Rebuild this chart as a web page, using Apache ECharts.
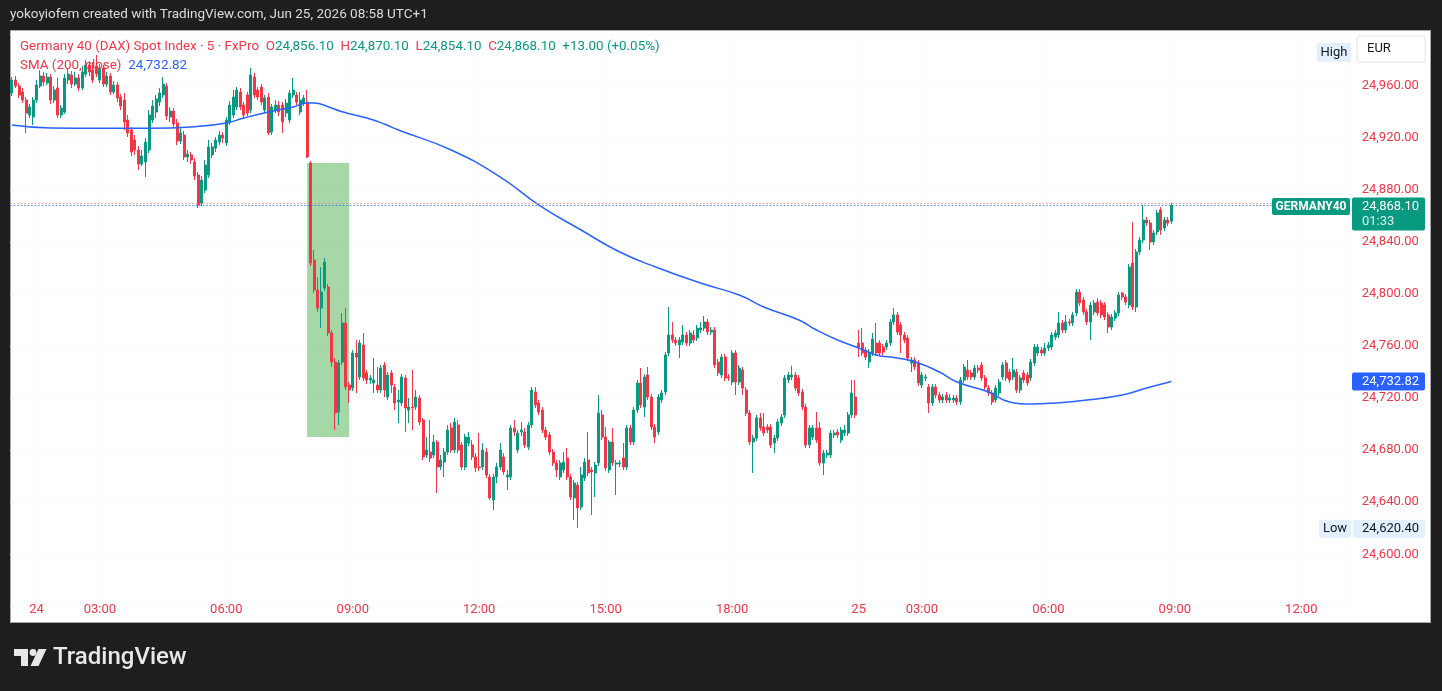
<!DOCTYPE html>
<html>
<head>
<meta charset="utf-8">
<script src="https://cdn.jsdelivr.net/npm/echarts@6.0.0/dist/echarts.min.js"></script>
<style>
html,body{margin:0;padding:0;background:#1e1e1e;width:1442px;height:691px;overflow:hidden}
#panel{position:absolute;left:10px;top:30px;width:1421px;height:593px;background:#ffffff;border:1px solid #a9a9a9;box-sizing:border-box}
#chart{position:absolute;left:0;top:0;width:1442px;height:691px}
</style>
</head>
<body>
<div id="panel"></div>
<div id="chart"></div>
<script>
// ---------- DATA ----------
// trading sessions: [day label, first bar time, number of 5-minute bars]
const sessions = [['23', '20:25', 7], ['24', '01:30', 234], ['25', '01:30', 140]];

// candles: [open, close, low, high]
const ohlc = [
[24954.6,24964.6,24952.3,24966.9],[24964.6,24960.0,24958.5,24967.7],[24960.0,24953.1,24950.8,24962.3],[24955.4,24949.2,24946.9,24958.5],
[24949.2,24939.2,24923.9,24951.5],[24937.7,24943.9,24935.4,24946.2],[24936.2,24949.2,24930.0,24951.5],[24949.2,24960.8,24946.9,24964.6],
[24960.0,24967.7,24958.5,24972.3],[24967.7,24963.1,24960.0,24970.8],[24962.3,24966.9,24960.8,24970.0],[24966.9,24949.2,24946.2,24969.2],
[24949.2,24956.9,24946.9,24960.0],[24958.5,24937.7,24935.4,24966.2],[24937.7,24943.1,24935.4,24945.4],[24940.0,24966.2,24938.5,24969.2],
[24964.6,24969.2,24961.5,24973.8],[24968.5,24961.5,24958.5,24971.5],[24961.5,24966.2,24960.0,24970.8],[24966.2,24958.5,24956.2,24969.2],
[24958.5,24970.8,24956.9,24975.4],[24969.2,24976.1,24966.9,24980.0],[24976.1,24970.8,24967.7,24979.2],[24972.3,24964.6,24962.3,24978.5],
[24975.4,24969.2,24966.9,24983.8],[24964.6,24973.8,24962.3,24976.9],[24973.8,24961.5,24959.2,24976.1],[24961.5,24967.7,24959.2,24970.8],
[24967.7,24955.4,24953.1,24970.0],[24955.4,24960.8,24953.8,24963.8],[24960.8,24950.8,24947.7,24963.1],[24951.5,24944.6,24941.5,24953.8],
[24949.2,24932.3,24926.2,24954.6],[24933.9,24923.9,24920.8,24937.7],[24926.2,24909.3,24906.2,24928.5],[24918.5,24910.8,24907.0,24922.3],
[24910.8,24900.0,24895.4,24913.9],[24900.0,24906.2,24898.5,24910.8],[24901.6,24916.9,24890.0,24920.0],[24910.8,24937.7,24908.5,24941.5],
[24933.9,24944.6,24931.6,24949.2],[24940.0,24950.0,24935.4,24953.1],[24947.7,24954.6,24944.6,24958.5],[24953.1,24961.5,24950.8,24966.9],
[24960.0,24936.9,24933.9,24962.3],[24936.2,24940.8,24932.3,24943.9],[24940.8,24930.8,24927.7,24943.1],[24931.6,24917.7,24914.6,24934.6],
[24917.7,24923.9,24915.4,24927.7],[24922.3,24905.4,24903.1,24925.4],[24905.4,24907.7,24901.6,24910.8],[24907.0,24903.1,24900.0,24909.3],
[24901.6,24890.8,24887.7,24904.6],[24891.6,24868.5,24866.2,24893.9],[24870.1,24887.7,24867.7,24890.8],[24880.0,24899.3,24877.7,24903.1],
[24891.6,24913.1,24889.3,24918.5],[24907.0,24913.1,24904.6,24916.2],[24912.3,24918.5,24909.3,24920.8],[24916.9,24922.3,24914.6,24925.4],
[24922.3,24920.0,24916.2,24924.6],[24916.2,24933.9,24913.9,24936.2],[24932.3,24945.4,24930.0,24948.5],[24937.7,24951.5,24935.4,24956.9],
[24943.9,24956.9,24941.5,24959.2],[24955.4,24943.9,24941.5,24958.5],[24945.4,24937.7,24935.4,24947.7],[24953.1,24939.2,24936.9,24955.4],
[24941.5,24968.5,24939.2,24973.8],[24966.9,24953.1,24950.8,24970.0],[24956.9,24951.5,24949.2,24959.2],[24959.2,24947.7,24945.4,24961.5],
[24941.5,24950.8,24939.2,24953.1],[24951.5,24923.9,24922.3,24954.6],[24924.6,24943.9,24922.3,24946.2],[24941.5,24945.4,24939.2,24949.2],
[24945.4,24940.0,24936.9,24948.5],[24945.4,24932.3,24923.9,24947.7],[24939.2,24946.9,24936.2,24950.0],[24933.9,24954.6,24931.6,24956.9],
[24953.1,24956.9,24950.8,24966.2],[24953.1,24947.7,24945.4,24955.4],[24940.0,24949.2,24937.7,24955.4],[24946.9,24950.8,24944.6,24953.1],
[24947.7,24905.4,24904.6,24956.9],[24900.8,24823.9,24821.6,24902.3],[24826.2,24803.2,24800.9,24833.9],[24803.2,24789.3,24786.3,24813.2],
[24789.3,24801.6,24774.0,24820.8],[24804.7,24824.7,24802.4,24827.8],[24805.5,24770.1,24767.8,24807.8],[24770.1,24747.8,24744.0,24772.4],
[24747.8,24708.6,24695.5,24750.9],[24709.4,24747.1,24699.4,24749.4],[24747.8,24777.8,24745.5,24785.5],[24777.8,24728.6,24726.3,24789.3],
[24730.1,24726.3,24716.3,24732.4],[24727.8,24754.7,24725.5,24757.0],[24754.7,24751.6,24724.0,24764.7],[24736.3,24762.4,24734.0,24764.7],
[24760.9,24735.5,24733.2,24770.1],[24739.4,24734.0,24730.9,24741.7],[24734.0,24735.5,24730.9,24737.8],[24731.7,24734.0,24724.0,24750.9],
[24730.1,24726.3,24724.0,24744.0],[24726.3,24743.2,24724.0,24745.5],[24745.5,24726.3,24720.9,24747.8],[24720.9,24737.8,24718.6,24740.1],
[24739.4,24730.1,24724.0,24741.7],[24728.6,24716.3,24710.9,24730.9],[24717.1,24718.6,24700.9,24726.3],[24716.3,24736.3,24713.9,24738.6],
[24735.5,24712.5,24694.0,24737.8],[24710.9,24713.2,24700.9,24720.1],[24713.2,24712.5,24695.5,24741.7],[24713.2,24720.9,24710.9,24726.3],
[24720.1,24701.7,24699.4,24722.4],[24703.2,24674.8,24672.5,24704.8],[24676.3,24680.2,24674.0,24690.1],[24678.6,24674.0,24670.9,24703.2],
[24676.3,24686.3,24674.0,24691.7],[24686.3,24667.1,24647.1,24687.8],[24667.1,24672.5,24664.8,24676.3],[24670.9,24678.6,24659.4,24681.7],
[24678.6,24695.5,24676.3,24699.4],[24697.1,24680.2,24677.8,24700.9],[24680.2,24701.7,24677.8,24704.8],[24699.4,24680.2,24677.8,24703.2],
[24684.0,24667.1,24664.8,24686.3],[24667.1,24690.1,24664.8,24692.5],[24685.5,24690.1,24683.2,24694.0],[24684.0,24674.8,24672.5,24687.8],
[24674.8,24666.4,24663.3,24677.8],[24667.1,24666.4,24664.0,24693.2],[24667.1,24680.2,24664.8,24685.5],[24678.6,24660.9,24658.6,24681.7],
[24659.4,24643.3,24641.7,24661.7],[24641.7,24659.4,24634.0,24661.7],[24659.4,24667.1,24654.8,24670.2],[24667.1,24680.2,24664.8,24685.5],
[24674.8,24663.3,24660.9,24677.8],[24659.4,24660.9,24649.4,24664.8],[24659.4,24697.1,24657.1,24699.4],[24697.1,24694.0,24690.9,24703.2],
[24680.2,24693.2,24677.8,24695.5],[24694.0,24695.5,24690.9,24701.7],[24694.0,24684.0,24681.7,24697.1],[24682.5,24699.4,24680.2,24701.7],
[24699.4,24726.3,24697.1,24728.6],[24724.8,24714.8,24712.5,24728.6],[24716.3,24709.4,24707.1,24718.6],[24710.9,24695.5,24693.2,24713.2],
[24695.5,24690.1,24687.8,24697.8],[24691.7,24678.6,24676.3,24694.0],[24678.6,24670.2,24667.9,24680.9],[24670.2,24664.8,24659.4,24672.5],
[24659.4,24670.2,24657.1,24672.5],[24664.8,24670.9,24662.5,24678.6],[24674.0,24659.4,24657.1,24681.7],[24659.4,24644.0,24641.7,24661.7],
[24643.3,24654.8,24626.3,24657.1],[24653.2,24635.6,24620.4,24655.6],[24636.3,24661.0,24634.0,24667.1],[24658.6,24670.9,24656.3,24674.0],
[24672.5,24662.5,24660.2,24694.0],[24664.8,24663.3,24630.2,24667.1],[24662.5,24668.6,24644.0,24670.9],[24670.2,24708.6,24667.9,24722.4],
[24707.1,24690.1,24687.8,24710.9],[24690.1,24666.4,24664.0,24697.8],[24664.8,24686.3,24662.5,24687.8],[24686.3,24670.2,24667.9,24697.1],
[24669.4,24670.2,24645.6,24672.5],[24669.4,24670.2,24667.1,24672.5],[24674.0,24667.1,24664.8,24685.5],[24667.1,24697.1,24664.8,24699.4],
[24697.1,24686.3,24684.0,24699.4],[24686.3,24710.9,24684.0,24713.2],[24710.9,24731.7,24708.6,24734.0],[24731.7,24714.8,24712.5,24743.2],
[24713.2,24736.3,24705.5,24738.6],[24737.8,24720.9,24718.6,24744.0],[24720.9,24697.8,24695.5,24723.2],[24697.8,24690.1,24685.5,24700.1],
[24694.0,24720.9,24691.7,24723.2],[24718.6,24724.0,24716.3,24726.3],[24724.8,24753.2,24722.4,24755.5],[24754.7,24768.6,24752.4,24790.1],
[24768.6,24764.7,24762.4,24778.6],[24764.7,24762.4,24760.1,24767.0],[24760.9,24764.7,24750.9,24767.0],[24763.2,24768.6,24760.9,24776.3],
[24768.6,24762.4,24760.1,24770.9],[24762.4,24770.1,24760.1,24772.4],[24768.6,24764.7,24762.4,24772.4],[24766.3,24773.9,24764.0,24776.3],
[24772.4,24773.9,24770.1,24778.6],[24773.9,24778.6,24771.6,24783.2],[24778.6,24770.9,24768.6,24780.9],[24770.9,24772.4,24768.6,24774.7],
[24772.4,24745.5,24743.2,24774.7],[24747.8,24739.4,24737.1,24750.1],[24737.8,24751.6,24735.5,24753.9],[24751.6,24735.5,24733.2,24753.9],
[24736.3,24735.5,24733.2,24738.6],[24732.4,24754.7,24730.1,24757.0],[24754.7,24732.4,24722.4,24757.0],[24732.4,24743.2,24730.1,24745.5],
[24741.7,24727.8,24722.4,24744.0],[24726.3,24708.6,24706.3,24728.6],[24708.6,24686.3,24684.0,24710.9],[24686.3,24689.4,24662.5,24691.7],
[24689.4,24704.8,24687.1,24707.1],[24704.8,24697.1,24694.8,24708.6],[24697.8,24693.2,24690.9,24708.6],[24697.8,24695.5,24693.2,24700.1],
[24697.8,24684.0,24681.7,24700.1],[24685.5,24689.4,24677.8,24691.7],[24689.4,24701.7,24687.1,24704.0],[24700.9,24705.5,24698.6,24707.8],
[24707.1,24735.5,24704.8,24737.8],[24734.0,24737.8,24731.7,24740.1],[24736.3,24737.8,24734.0,24745.0],[24737.8,24727.8,24725.5,24740.1],
[24735.5,24724.0,24721.7,24737.8],[24724.8,24713.2,24710.9,24727.1],[24713.2,24684.0,24681.7,24715.5],[24684.0,24697.1,24681.7,24699.4],
[24690.1,24697.1,24687.8,24699.4],[24697.1,24687.8,24685.5,24709.4],[24697.1,24670.2,24667.9,24701.7],[24670.2,24677.8,24660.9,24680.2],
[24676.3,24677.8,24674.0,24680.2],[24676.3,24693.2,24674.0,24695.5],[24691.7,24693.2,24689.4,24695.5],[24694.0,24691.7,24689.4,24696.3],
[24687.8,24695.5,24685.5,24697.8],[24693.2,24695.5,24690.9,24699.4],[24693.2,24707.1,24690.9,24709.4],[24707.1,24724.0,24704.8,24734.0],
[24720.9,24707.1,24704.8,24734.0],
[24762.4,24759.3,24751.6,24772.4],[24762.4,24754.7,24752.4,24774.0],[24757.0,24751.6,24749.4,24759.3],[24747.8,24755.5,24743.2,24757.8],
[24754.7,24765.5,24752.4,24770.1],[24762.4,24754.7,24752.4,24777.8],[24762.4,24754.7,24752.4,24764.7],[24759.3,24755.5,24753.2,24761.7],
[24759.3,24762.4,24757.0,24764.7],[24762.4,24778.6,24760.1,24780.9],[24778.6,24784.0,24776.3,24789.3],[24784.0,24770.9,24768.6,24786.3],
[24776.3,24768.6,24754.7,24778.6],[24768.6,24764.7,24762.4,24770.9],[24766.3,24750.9,24748.6,24768.6],[24747.1,24749.4,24740.1,24751.6],
[24749.4,24744.0,24741.7,24751.6],[24747.1,24731.7,24729.4,24749.4],[24730.1,24737.8,24727.8,24740.1],[24735.5,24736.3,24733.2,24738.6],
[24728.6,24716.3,24708.6,24730.9],[24716.3,24728.6,24714.0,24730.9],[24728.6,24722.4,24720.1,24730.9],[24722.4,24718.6,24716.3,24724.8],
[24718.6,24720.9,24716.3,24723.2],[24722.4,24718.6,24716.3,24724.8],[24718.6,24720.1,24716.3,24723.2],[24718.6,24720.1,24716.3,24722.4],
[24720.1,24717.1,24714.8,24722.4],[24717.1,24734.0,24714.8,24736.3],[24734.0,24743.9,24731.7,24746.3],[24741.7,24736.3,24734.0,24749.4],
[24739.4,24736.3,24734.0,24741.7],[24736.3,24743.2,24734.0,24745.5],[24743.2,24741.7,24739.4,24745.5],[24745.5,24735.5,24733.2,24747.8],
[24735.5,24728.6,24726.3,24737.8],[24727.8,24724.0,24721.7,24730.1],[24724.0,24717.1,24714.8,24726.3],[24718.6,24727.8,24716.3,24730.1],
[24724.0,24732.4,24721.7,24734.8],[24736.3,24745.5,24734.0,24747.8],[24747.1,24735.5,24733.2,24749.4],[24740.1,24734.0,24731.7,24742.4],
[24736.3,24741.7,24734.0,24750.9],[24740.1,24726.3,24724.0,24742.4],[24726.3,24735.5,24724.0,24737.8],[24739.4,24734.0,24731.7,24741.7],
[24737.8,24731.7,24729.4,24740.1],[24735.5,24747.8,24733.2,24750.1],[24747.1,24759.3,24744.7,24761.7],[24754.7,24759.3,24752.4,24761.7],
[24757.0,24754.7,24752.4,24759.3],[24754.7,24758.6,24752.4,24762.4],[24758.6,24760.9,24756.3,24763.2],[24759.3,24768.6,24757.0,24770.9],
[24767.0,24770.1,24764.7,24772.4],[24768.6,24777.8,24766.3,24786.3],[24777.8,24772.4,24770.1,24780.1],[24772.4,24778.6,24770.1,24783.9],
[24778.6,24777.8,24775.5,24780.9],[24777.8,24784.0,24775.5,24786.3],[24785.5,24801.6,24783.2,24803.9],[24801.6,24793.2,24790.9,24803.9],
[24795.5,24786.3,24784.0,24797.8],[24786.3,24778.6,24776.3,24788.6],[24778.6,24791.6,24764.7,24793.9],[24786.3,24793.2,24784.0,24795.5],
[24794.0,24785.5,24783.2,24797.0],[24793.2,24784.0,24781.6,24795.5],[24791.6,24782.4,24780.1,24793.9],[24784.0,24774.7,24770.1,24786.3],
[24774.7,24782.4,24772.4,24784.7],[24781.6,24785.5,24779.3,24787.8],[24785.5,24799.3,24783.2,24801.6],[24800.9,24797.8,24795.5,24801.6],
[24797.8,24793.9,24791.6,24800.1],[24791.6,24820.8,24789.3,24823.1],[24823.9,24790.1,24787.8,24855.4],[24790.1,24832.4,24786.3,24834.7],
[24832.4,24841.6,24830.1,24843.9],[24841.6,24857.0,24839.3,24868.8],[24857.0,24854.7,24852.4,24859.3],[24854.7,24840.1,24833.9,24857.0],
[24840.1,24847.0,24837.8,24849.3],[24847.8,24862.4,24845.5,24864.7],[24864.7,24849.3,24845.5,24867.0],[24850.8,24857.0,24848.5,24859.3],
[24857.0,24854.7,24852.4,24859.3],[24856.1,24868.1,24854.1,24870.1]
];

// SMA(200, close) readings: [bar index, value]
const smaPoints = [
[0,24930.0],[11,24927.7],[25,24927.5],[39,24927.5],[52,24928.7],[61,24931.6],[66,24935.4],[73,24940.0],
[80,24943.9],[84,24946.9],[86,24946.9],[90,24944.1],[94,24940.2],[101,24935.4],[106,24930.8],[110,24926.2],
[125,24910.8],[139,24890.0],[150,24868.5],[162,24849.3],[173,24832.4],[184,24820.1],[196,24808.5],[207,24799.3],
[214,24790.1],[224,24780.1],[229,24772.4],[235,24764.7],[241,24758.6],[246,24753.2],[252,24750.9],[258,24747.1],
[264,24740.1],[269,24732.5],[278,24724.8],[284,24717.1],[290,24715.5],[297,24716.3],[306,24718.6],[316,24722.4],
[323,24727.8],[330,24732.82]
];

const lastBar = [24856.10, 24870.10, 24854.10, 24868.10]; // O H L C
const lastChange = '+13.00 (+0.05%)';
const smaLast = 24732.82;
const bidAsk = [24868.10, 24870.10];
const sessionLow = 24620.40;
const countdown = '01:33';
const rectZone = [[84, 24900.8], [96, 24690.2]];
const yTicks = {min: 24560, max: 25000, step: 40};

// ---------- CHART ----------
const FONT = 'Roboto, "Liberation Sans", Arial, sans-serif';
const RED = '#f23645', GREEN = '#089981', BLUE = '#2962ff';
const fmt = v => v.toLocaleString('en-US', {minimumFractionDigits: 2, maximumFractionDigits: 2});

const categories = [];
sessions.forEach(([d, start, n]) => {
  const [h, m] = start.split(':').map(Number);
  const t0 = h * 60 + m;
  for (let k = 0; k < n; k++) {
    const t = t0 + 5 * k;
    categories.push(d + ' ' + String(Math.floor(t / 60)).padStart(2, '0') + ':' + String(t % 60).padStart(2, '0'));
  }
});
function labelOf(i) {
  const c = categories[i];
  if (!c) return '';
  const [d, t] = c.split(' ');
  if (i > 0 && categories[i - 1].split(' ')[0] !== d) return d;
  if (t.endsWith(':00') && (+t.slice(0, 2)) % 3 === 0) return t;
  return '';
}

const chart = echarts.init(document.getElementById('chart'));
chart.setOption({
  animation: false,
  backgroundColor: 'transparent',
  grid: {left: 10.24, right: 93.3, top: 34, bottom: 84.7},
  xAxis: {
    type: 'category', data: categories, boundaryGap: true,
    axisLine: {show: false}, axisTick: {show: false},
    axisLabel: {interval: (i) => labelOf(i) !== '', formatter: (v, i) => labelOf(i),
      color: RED, fontSize: 13, fontFamily: FONT, margin: 3, verticalAlign: 'middle'},
    splitLine: {show: true, interval: (i) => labelOf(i) !== '', lineStyle: {color: '#fbfbfb', width: 1}}
  },
  yAxis: {
    type: 'value', position: 'right', min: yTicks.min, max: yTicks.max, interval: yTicks.step,
    axisLine: {show: false}, axisTick: {show: false},
    axisLabel: {color: RED, fontSize: 13, fontFamily: FONT, margin: 13, showMinLabel: false, showMaxLabel: false,
      formatter: v => fmt(v)},
    splitLine: {show: true, lineStyle: {color: '#fbfbfb', width: 1}}
  },
  series: [
    {
      type: 'candlestick', data: ohlc, barWidth: 2.5, z: 2,
      itemStyle: {color: GREEN, color0: RED, borderColor: GREEN, borderColor0: RED, borderWidth: 1},
      markArea: {silent: true, itemStyle: {color: 'rgba(76,175,80,0.5)'},
        data: [[{coord: [categories[rectZone[0][0]], rectZone[0][1]]}, {coord: [categories[rectZone[1][0]], rectZone[1][1]]}]]},
      markLine: {silent: true, symbol: 'none', label: {show: false}, animation: false,
        data: [
          {yAxis: bidAsk[1], lineStyle: {color: '#f27a85', type: [1.5, 2], width: 1.2, opacity: 0.8}},
          {yAxis: bidAsk[0], lineStyle: {color: '#2962ff', type: [1.5, 2], width: 1.2, opacity: 0.8}}
        ]}
    },
    {
      type: 'line', data: smaPoints, smooth: 0.5, showSymbol: false, z: 4,
      lineStyle: {color: BLUE, width: 1.5}
    }
  ]
});

const yPx = v => chart.convertToPixel({yAxisIndex: 0}, v);
const yBid = yPx(lastBar[3]);
const ySma = yPx(smaLast);
const yLow = yPx(sessionLow);

const txt = (x, y, text, fill, extra) => Object.assign({type: 'text', x, y, z: 100,
  style: Object.assign({text, fill, font: '13px ' + FONT, align: 'left', verticalAlign: 'middle'}, extra || {})});
const box = (x, y, w, h, fill, extra) => ({type: 'rect', z: 99, shape: {x, y, width: w, height: h, r: 2},
  style: Object.assign({fill}, extra || {})});

chart.setOption({
  graphic: [
    txt(10, 15, 'yokoyiofem created with TradingView.com, Jun 25, 2026 08:58 UTC+1', '#dcdcdc', {font: '13.5px ' + FONT}),
    {type: 'text', x: 20, y: 47, z: 100, style: {
      text: '{r|Germany 40 (DAX) Spot Index · 5 · FxPro}  {r|O}{g|' + fmt(lastBar[0]) + '}  {r|H}{g|' + fmt(lastBar[1]) +
            '}  {r|L}{g|' + fmt(lastBar[2]) + '}  {r|C}{g|' + fmt(lastBar[3]) + '}  {g|' + lastChange + '}',
      font: '13.4px ' + FONT, verticalAlign: 'middle', align: 'left',
      rich: {r: {fill: RED, fontSize: 13.4, fontFamily: FONT}, g: {fill: GREEN, fontSize: 13.4, fontFamily: FONT}}}},
    {type: 'text', x: 20, y: 66, z: 100, style: {
      text: '{r|SMA (200, close)}  {b|' + fmt(smaLast) + '}',
      font: '13.4px ' + FONT, verticalAlign: 'middle', align: 'left',
      rich: {r: {fill: RED, fontSize: 13.4, fontFamily: FONT}, b: {fill: BLUE, fontSize: 13.4, fontFamily: FONT}}}},
    // High / EUR
    box(1317, 43, 34, 19, '#e3effd'),
    txt(1334, 52.5, 'High', '#131722', {align: 'center'}),
    box(1357, 36, 68, 26, '#ffffff', {stroke: '#e0e3eb', lineWidth: 1}),
    txt(1367, 49, 'EUR', '#131722'),
    // last price
    box(1272, yBid - 7.5, 78, 17, GREEN),
    txt(1311, yBid + 1, 'GERMANY40', '#ffffff', {align: 'center', font: 'bold 12px ' + FONT}),
    box(1352, yBid - 8, 73, 33, GREEN),
    txt(1362, yBid + 1, fmt(lastBar[3]), '#ffffff'),
    txt(1362, yBid + 16, countdown, '#d8f0ea'),
    // SMA value
    box(1352, ySma - 9, 73, 18, BLUE),
    txt(1362, ySma, fmt(smaLast), '#ffffff'),
    // Low
    box(1319, yLow - 8, 32, 18, '#e3effd'),
    txt(1335, yLow + 1, 'Low', '#131722', {align: 'center'}),
    box(1353, yLow - 8, 72, 18, '#e3effd'),
    txt(1362, yLow + 1, fmt(sessionLow), '#131722'),
    // TradingView logo
    {type: 'polygon', z: 100, shape: {points: [[14, 649], [28, 649], [28, 666], [21, 666], [21, 656], [14, 656]]}, style: {fill: '#e8e8e8'}},
    {type: 'circle', z: 100, shape: {cx: 33, cy: 652.5, r: 3.4}, style: {fill: '#e8e8e8'}},
    {type: 'polygon', z: 100, shape: {points: [[38.5, 649], [46.5, 649], [38.5, 666], [30.5, 666]]}, style: {fill: '#e8e8e8'}},
    txt(53, 658, 'TradingView', '#e8e8e8', {font: '500 24px ' + FONT})
  ]
});
</script>
</body>
</html>
